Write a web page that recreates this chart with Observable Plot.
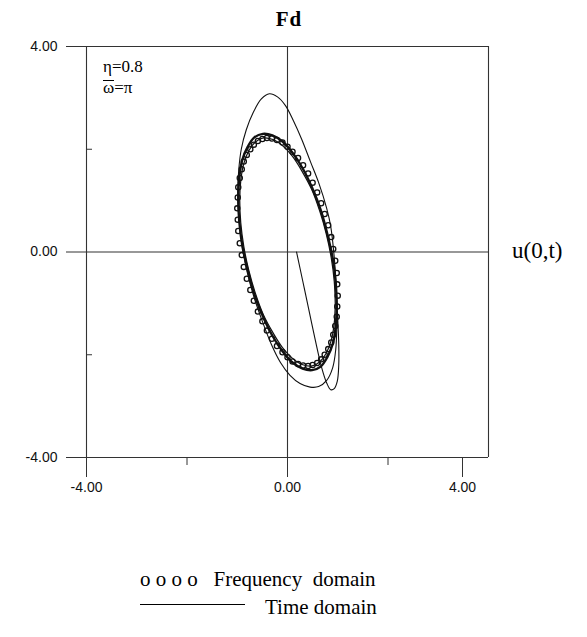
<!DOCTYPE html>
<html><head><meta charset="utf-8">
<script src="https://cdn.jsdelivr.net/npm/d3@7"></script>
<script src="https://cdn.jsdelivr.net/npm/@observablehq/plot@0.6"></script>
<style>
body{margin:0;background:#fff;}
#wrap{position:relative;width:587px;height:637px;overflow:hidden;}
#wrap svg{position:absolute;left:0;top:0;}
.lbl{position:absolute;color:#000;white-space:nowrap;line-height:1;}
.serif{font-family:"Liberation Serif","Times New Roman",serif;}
</style></head><body>
<div id="wrap">
  <div class="lbl serif" style="left:0;width:578px;text-align:center;top:9px;font-size:21px;font-weight:bold;letter-spacing:1px;">Fd</div>
  <div class="lbl serif" style="left:103px;top:58px;font-size:17px;">η=0.8</div>
  <div class="lbl serif" style="left:103px;top:79px;font-size:17px;">ω=π</div>
  <div style="position:absolute;left:103px;top:80px;width:11px;border-top:1.3px solid #000;"></div>
  <div class="lbl serif" style="left:512px;top:239px;font-size:23px;">u(0,t)</div>
  <div class="lbl serif" style="left:140px;top:569px;font-size:21px;">o o o o&nbsp;&nbsp; Frequency&nbsp; domain</div>
  <div style="position:absolute;left:140px;top:604px;width:105px;border-top:1.5px solid #000;"></div>
  <div class="lbl serif" style="left:265px;top:597px;font-size:21px;">Time domain</div>
</div>
<script>
// axis ticks
const majorTicks = [-4, 0, 4];
const minorTicks = [-2, 2];

// Frequency-domain solution (circles)
const freqU = [1.00,.99,.98,.95,.91,.87,.81,.74,.67,.59,.50,.41,.31,.21,.10,0,-.10,-.21,-.31,-.41,-.50,-.59,-.67,-.74,-.81,-.87,-.91,-.95,-.98,-.99,-1.00,-.99,-.98,-.95,-.91,-.87,-.81,-.74,-.67,-.59,-.50,-.41,-.31,-.21,-.10,0,.10,.21,.31,.41,.50,.59,.67,.74,.81,.87,.91,.95,.98,.99];
const freqF = [-.85,-.63,-.41,-.17,.06,.29,.52,.74,.95,1.16,1.35,1.53,1.69,1.83,1.95,2.05,2.13,2.18,2.21,2.22,2.20,2.16,2.09,2.00,1.89,1.76,1.61,1.44,1.26,1.06,.85,.63,.41,.17,-.06,-.29,-.52,-.74,-.95,-1.16,-1.35,-1.53,-1.69,-1.83,-1.95,-2.05,-2.13,-2.18,-2.21,-2.22,-2.20,-2.16,-2.09,-2.00,-1.89,-1.76,-1.61,-1.44,-1.26,-1.06];

// Time-domain: steady-state loop (outer strand)
const steadyAU = [.98,.96,.90,.79,.66,.49,.30,.10,-.10,-.30,-.49,-.66,-.79,-.90,-.96,-.98,-.96,-.90,-.79,-.66,-.49,-.30,-.10,.10,.30,.49,.66,.79,.90,.96,.98];
const steadyAF = [-1.05,-.60,-.13,.36,.82,1.25,1.63,1.93,2.15,2.27,2.30,2.23,2.05,1.79,1.45,1.05,.60,.13,-.36,-.82,-1.25,-1.63,-1.93,-2.15,-2.27,-2.30,-2.23,-2.05,-1.79,-1.45,-1.05];
// Time-domain: steady-state loop (inner strand)
const steadyBU = [.95,.93,.87,.77,.64,.48,.29,.10,-.10,-.29,-.48,-.64,-.77,-.87,-.93,-.95,-.93,-.87,-.77,-.64,-.48,-.29,-.10,.10,.29,.48,.64,.77,.87,.93,.95];
const steadyBF = [-1.00,-.57,-.11,.36,.80,1.22,1.57,1.86,2.07,2.19,2.22,2.14,1.97,1.72,1.39,1.00,.57,.11,-.36,-.80,-1.22,-1.57,-1.86,-2.07,-2.19,-2.22,-2.14,-1.97,-1.72,-1.39,-1.00];
// Time-domain: transient start
const transU = [0.18,0.30,0.42,0.55,0.68,0.78,0.86,0.93,0.99,1.02,1.02,1.00,0.97,0.93,0.86,0.78,0.62,0.46,0.28,0.12,-0.04,-0.20,-0.36,-0.52,-0.68,-0.82,-0.92,-0.97,-0.99,-0.96,-0.90,-0.80,-0.66,-0.50,-0.32,-0.14,0.05,0.25,0.45,0.62,0.78,0.90,0.96,0.98,0.98];
const transF = [0.00,-0.55,-1.10,-1.70,-2.25,-2.55,-2.68,-2.66,-2.52,-2.20,-1.80,-1.30,-0.70,-0.10,0.50,0.85,1.35,1.75,2.20,2.55,2.85,3.02,3.08,2.98,2.72,2.38,2.00,1.60,1.15,0.60,0.10,-0.40,-0.90,-1.35,-1.80,-2.15,-2.40,-2.56,-2.63,-2.62,-2.50,-2.25,-1.90,-1.50,-1.05];

const toPts = (us, fs) => us.map((u, i) => ({u, F: fs[i]}));
const freq = toPts(freqU, freqF);
const steadyA = toPts(steadyAU, steadyAF);
const steadyB = toPts(steadyBU, steadyBF);
const trans = toPts(transU, transF);

const fmt = d => d.toFixed(2);
const ink = "#111";

const chart = Plot.plot({
  width: 587, height: 637,
  marginTop: 46, marginBottom: 180, marginLeft: 86, marginRight: 99,
  x: {domain: [-4, 4]},
  y: {domain: [-4, 4]},
  style: {fontFamily: "'Liberation Sans', Arial, sans-serif", fontSize: "14px", color: ink, background: "#fff"},
  marks: [
    Plot.ruleY(majorTicks, {x1: -4, x2: 4, stroke: "#333", strokeWidth: 1.1}),
    Plot.ruleX(majorTicks, {y1: -4, y2: 4, stroke: "#333", strokeWidth: 1.1}),
    Plot.axisY({ticks: majorTicks, tickSize: 20, tickPadding: 9, tickFormat: fmt, label: null, stroke: "#333"}),
    Plot.axisY({ticks: minorTicks, tickSize: 6, dx: 6, text: null, label: null, stroke: "#333"}),
    Plot.axisX({ticks: [-4, 0], tickSize: 20, tickPadding: 5, tickFormat: fmt, label: null, stroke: "#333"}),
    Plot.axisX({ticks: [4], tickSize: 20, tickPadding: 5, tickFormat: fmt, label: null, stroke: "#333", dx: -26}),
    Plot.axisX({ticks: minorTicks, tickSize: 8, text: null, label: null, stroke: "#333"}),
    Plot.line(trans, {x: "u", y: "F", stroke: ink, strokeWidth: 1.1, curve: "catmull-rom"}),
    Plot.line(steadyB, {x: "u", y: "F", stroke: ink, strokeWidth: 1.2, curve: "catmull-rom"}),
    Plot.line(steadyA, {x: "u", y: "F", stroke: ink, strokeWidth: 2.4, curve: "catmull-rom"}),
    Plot.dot(freq, {x: "u", y: "F", r: 2.6, stroke: ink, strokeWidth: 1.3, fill: "none"})
  ]
});
document.getElementById("wrap").prepend(chart);
</script>
</body></html>
